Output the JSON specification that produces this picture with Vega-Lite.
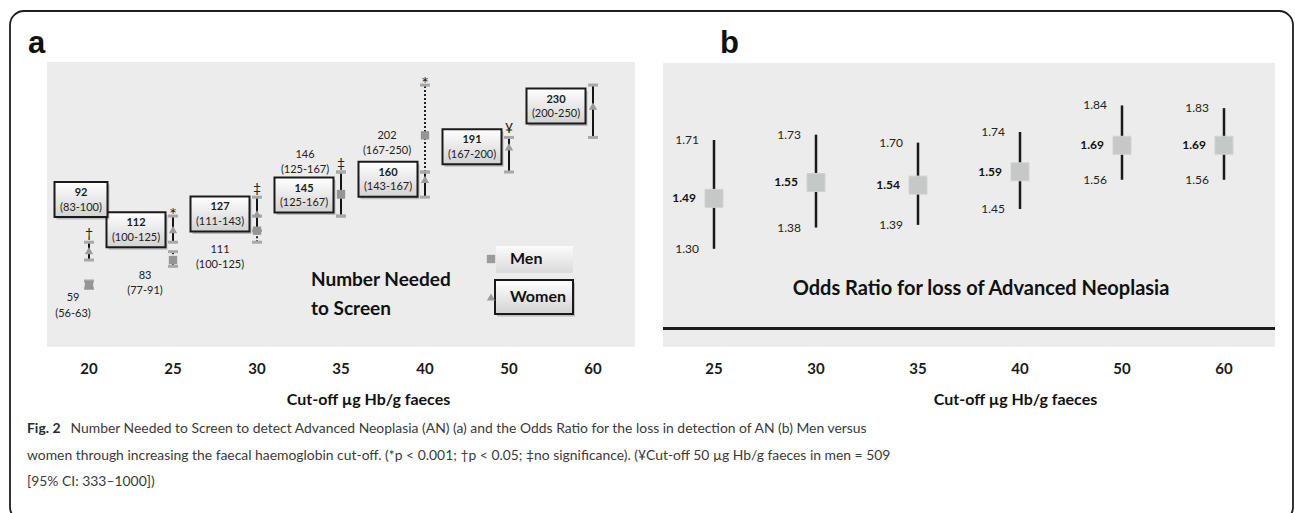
{
  "$schema": "https://vega.github.io/schema/vega-lite/v6.json",
  "width": 1283,
  "height": 510,
  "autosize": {"type": "none"},
  "padding": {"left": 10, "top": 11, "right": 2, "bottom": 0},
  "background": "white",
  "config": {
    "view": {"stroke": "#1e1e1e", "strokeWidth": 1.8, "cornerRadius": 14, "fill": "white"},
    "text": {"font": "Lato", "color": "#1a1a1a"}
  },
  "datasets": {
    "nns": [
      {"cutoff": "20", "sex": "Women", "nns": 92, "lo": 83, "hi": 100, "sig": "†"},
      {"cutoff": "20", "sex": "Men", "nns": 59, "lo": 56, "hi": 63, "sig": ""},
      {"cutoff": "25", "sex": "Women", "nns": 112, "lo": 100, "hi": 125, "sig": "*"},
      {"cutoff": "25", "sex": "Men", "nns": 83, "lo": 77, "hi": 91, "sig": ""},
      {"cutoff": "30", "sex": "Women", "nns": 127, "lo": 111, "hi": 143, "sig": "‡"},
      {"cutoff": "30", "sex": "Men", "nns": 111, "lo": 100, "hi": 125, "sig": ""},
      {"cutoff": "35", "sex": "Women", "nns": 145, "lo": 125, "hi": 167, "sig": "‡"},
      {"cutoff": "35", "sex": "Men", "nns": 146, "lo": 125, "hi": 167, "sig": ""},
      {"cutoff": "40", "sex": "Women", "nns": 160, "lo": 143, "hi": 167, "sig": "*"},
      {"cutoff": "40", "sex": "Men", "nns": 202, "lo": 167, "hi": 250, "sig": ""},
      {"cutoff": "50", "sex": "Women", "nns": 191, "lo": 167, "hi": 200, "sig": "¥"},
      {"cutoff": "50", "sex": "Men", "nns": 509, "lo": 333, "hi": 1000, "sig": ""},
      {"cutoff": "60", "sex": "Women", "nns": 230, "lo": 200, "hi": 250, "sig": ""}
    ],
    "or": [
      {"cutoff": "25", "or": 1.49, "lo": 1.30, "hi": 1.71},
      {"cutoff": "30", "or": 1.55, "lo": 1.38, "hi": 1.73},
      {"cutoff": "35", "or": 1.54, "lo": 1.39, "hi": 1.70},
      {"cutoff": "40", "or": 1.59, "lo": 1.45, "hi": 1.74},
      {"cutoff": "50", "or": 1.69, "lo": 1.56, "hi": 1.84},
      {"cutoff": "60", "or": 1.69, "lo": 1.56, "hi": 1.83}
    ]
  },
  "layer": [
    {
      "data": {"name": "nns"},
      "encoding": {
        "x": {"field": "cutoff", "type": "nominal",
          "scale": {"domain": ["20","25","30","35","40","50","60"], "range": [37, 625], "paddingInner": 0, "paddingOuter": 0},
          "axis": {"orient": "bottom", "offset": -174, "title": "Cut-off µg Hb/g faeces", "titleX": 358, "labelAngle": 0, "domain": false, "ticks": false, "tickSize": 0, "grid": false, "labelFont": "Lato", "labelFontWeight": "bold", "labelFontSize": 15, "labelColor": "#1a1a1a", "labelPadding": 14.5, "titleFont": "Lato", "titleFontWeight": "bold", "titleFontSize": 16, "titleColor": "#111111", "titlePadding": 15}}
      },
      "layer": [
        {
          "transform": [{"filter": "datum.sex == 'Women'"}],
          "mark": {"type": "rect", "fill": "#ececec"},
          "encoding": {"y": {"datum": 0, "type": "quantitative", "scale": {"domain": [0, 272], "range": [336, 51], "nice": false}, "axis": null}, "y2": {"datum": 272}}
        },
        {
          "transform": [{"filter": "datum.sex == 'Men' && datum.nns <= 272"}],
          "mark": {"type": "rule", "color": "#222222", "strokeWidth": 2, "strokeDash": [2, 2]},
          "encoding": {"y": {"field": "lo", "type": "quantitative", "scale": {"domain": [0, 272], "range": [336, 51], "nice": false}, "axis": null}, "y2": {"field": "hi"}}
        },
        {
          "transform": [{"filter": "datum.sex == 'Women'"}],
          "mark": {"type": "rule", "color": "#151515", "strokeWidth": 2},
          "encoding": {"y": {"field": "lo", "type": "quantitative", "scale": {"domain": [0, 272], "range": [336, 51], "nice": false}, "axis": null}, "y2": {"field": "hi"}}
        },
        {
          "transform": [{"filter": "datum.nns <= 272"}, {"fold": ["lo", "hi"], "as": ["bound", "val"]}],
          "mark": {"type": "tick", "color": "#a8a8a8", "size": 10, "thickness": 3, "opacity": 1},
          "encoding": {"y": {"field": "val", "type": "quantitative", "scale": {"domain": [0, 272], "range": [336, 51], "nice": false}, "axis": null}}
        },
        {
          "transform": [{"filter": "datum.sex == 'Women'"}],
          "mark": {"type": "point", "filled": true, "color": "#9b9b9b", "opacity": 1, "size": 70},
          "encoding": {
            "y": {"field": "nns", "type": "quantitative", "scale": {"domain": [0, 272], "range": [336, 51], "nice": false}, "axis": null},
            "shape": {"field": "sex", "type": "nominal", "scale": {"domain": ["Men", "Women"], "range": ["square", "triangle-up"]},
              "legend": {"orient": "none", "legendX": 473, "legendY": 240, "title": null, "direction": "vertical", "symbolSize": 70, "symbolFillColor": "#9b9b9b", "symbolStrokeWidth": 0, "labelFont": "Lato", "labelFontWeight": "bold", "labelFontSize": 16, "labelColor": "#111111", "labelOffset": 11, "rowPadding": 22, "padding": 0}}
          }
        },
        {
          "transform": [{"filter": "datum.sex == 'Men' && datum.nns <= 272"}],
          "mark": {"type": "point", "filled": true, "color": "#959595", "opacity": 1, "size": 70},
          "encoding": {
            "y": {"field": "nns", "type": "quantitative", "scale": {"domain": [0, 272], "range": [336, 51], "nice": false}, "axis": null},
            "shape": {"field": "sex", "type": "nominal", "scale": {"domain": ["Men", "Women"], "range": ["square", "triangle-up"]}}
          }
        },
        {
          "transform": [{"filter": "datum.nns <= 272"}, {"joinaggregate": [{"op": "max", "field": "hi", "as": "top"}], "groupby": ["cutoff"]}, {"filter": "datum.sig != '' && datum.sig != '*'"}],
          "mark": {"type": "text", "fontSize": 14, "baseline": "alphabetic", "dy": -4, "color": "#222222"},
          "encoding": {"y": {"field": "top", "type": "quantitative", "scale": {"domain": [0, 272], "range": [336, 51], "nice": false}, "axis": null}, "text": {"field": "sig"}}
        },
        {
          "transform": [{"filter": "datum.nns <= 272"}, {"joinaggregate": [{"op": "max", "field": "hi", "as": "top"}], "groupby": ["cutoff"]}, {"filter": "datum.sig == '*'"}],
          "mark": {"type": "text", "fontSize": 18, "baseline": "alphabetic", "dy": 5, "color": "#222222"},
          "encoding": {"y": {"field": "top", "type": "quantitative", "scale": {"domain": [0, 272], "range": [336, 51], "nice": false}, "axis": null}, "text": {"field": "sig"}}
        },
        {
          "transform": [{"filter": "datum.sex == 'Women' && datum.cutoff != '20'"}],
          "mark": {"type": "point", "shape": "M-1.686,-1H1.686V1H-1.686Z", "size": 1225, "filled": true, "fill": "#000000", "opacity": 0.2, "xOffset": -35, "yOffset": 2.5, "strokeWidth": 0},
          "encoding": {"y": {"field": "nns", "type": "quantitative", "scale": {"domain": [0, 272], "range": [336, 51], "nice": false}, "axis": null}}
        },
        {
          "transform": [{"filter": "datum.sex == 'Women' && datum.cutoff != '20'"}],
          "mark": {"type": "point", "shape": "M-1.686,-1H1.686V1H-1.686Z", "size": 1225, "filled": true, "opacity": 1,
            "fill": {"gradient": "linear", "x1": 0, "y1": 0, "x2": 0, "y2": 1, "stops": [{"offset": 0, "color": "#ffffff"}, {"offset": 1, "color": "#d2d2d2"}]},
            "stroke": "#1a1a1a", "strokeWidth": 2, "xOffset": -37},
          "encoding": {"y": {"field": "nns", "type": "quantitative", "scale": {"domain": [0, 272], "range": [336, 51], "nice": false}, "axis": null}}
        },
        {
          "transform": [{"filter": "datum.sex == 'Women' && datum.cutoff == '20'"}],
          "mark": {"type": "point", "shape": "M-1.514,-1H1.514V1H-1.514Z", "size": 1225, "filled": true, "fill": "#000000", "opacity": 0.2, "xOffset": -6, "yOffset": -48.5, "strokeWidth": 0},
          "encoding": {"y": {"field": "nns", "type": "quantitative", "scale": {"domain": [0, 272], "range": [336, 51], "nice": false}, "axis": null}}
        },
        {
          "transform": [{"filter": "datum.sex == 'Women' && datum.cutoff == '20'"}],
          "mark": {"type": "point", "shape": "M-1.514,-1H1.514V1H-1.514Z", "size": 1225, "filled": true, "opacity": 1,
            "fill": {"gradient": "linear", "x1": 0, "y1": 0, "x2": 0, "y2": 1, "stops": [{"offset": 0, "color": "#ffffff"}, {"offset": 1, "color": "#d2d2d2"}]},
            "stroke": "#1a1a1a", "strokeWidth": 2, "xOffset": -8, "yOffset": -51},
          "encoding": {"y": {"field": "nns", "type": "quantitative", "scale": {"domain": [0, 272], "range": [336, 51], "nice": false}, "axis": null}}
        },
        {
          "transform": [{"filter": "datum.sex == 'Women' && datum.cutoff != '20'"}],
          "mark": {"type": "text", "fontSize": 11, "fontWeight": "bold", "baseline": "middle", "dx": -37, "dy": -6.5},
          "encoding": {"y": {"field": "nns", "type": "quantitative", "scale": {"domain": [0, 272], "range": [336, 51], "nice": false}, "axis": null}, "text": {"field": "nns", "type": "quantitative", "format": "d"}}
        },
        {
          "transform": [{"filter": "datum.sex == 'Women' && datum.cutoff != '20'"}, {"calculate": "'(' + datum.lo + '-' + datum.hi + ')'", "as": "ci"}],
          "mark": {"type": "text", "fontSize": 11, "baseline": "middle", "dx": -37, "dy": 8, "color": "#222222"},
          "encoding": {"y": {"field": "nns", "type": "quantitative", "scale": {"domain": [0, 272], "range": [336, 51], "nice": false}, "axis": null}, "text": {"field": "ci"}}
        },
        {
          "transform": [{"filter": "datum.sex == 'Women' && datum.cutoff == '20'"}],
          "mark": {"type": "text", "fontSize": 11, "fontWeight": "bold", "baseline": "middle", "dx": -8, "dy": -57.5},
          "encoding": {"y": {"field": "nns", "type": "quantitative", "scale": {"domain": [0, 272], "range": [336, 51], "nice": false}, "axis": null}, "text": {"field": "nns", "type": "quantitative", "format": "d"}}
        },
        {
          "transform": [{"filter": "datum.sex == 'Women' && datum.cutoff == '20'"}, {"calculate": "'(' + datum.lo + '-' + datum.hi + ')'", "as": "ci"}],
          "mark": {"type": "text", "fontSize": 11, "baseline": "middle", "dx": -8, "dy": -43, "color": "#222222"},
          "encoding": {"y": {"field": "nns", "type": "quantitative", "scale": {"domain": [0, 272], "range": [336, 51], "nice": false}, "axis": null}, "text": {"field": "ci"}}
        },
        {
          "transform": [{"filter": "datum.sex == 'Men' && datum.cutoff == '20'"}, {"calculate": "datum.nns + '\\n(' + datum.lo + '-' + datum.hi + ')'", "as": "lab"}],
          "mark": {"type": "text", "fontSize": 11, "baseline": "middle", "lineBreak": "\n", "lineHeight": 15.5, "dx": -16, "dy": 13, "color": "#222222"},
          "encoding": {"y": {"field": "nns", "type": "quantitative", "scale": {"domain": [0, 272], "range": [336, 51], "nice": false}, "axis": null}, "text": {"field": "lab"}}
        },
        {
          "transform": [{"filter": "datum.sex == 'Men' && datum.cutoff == '25'"}, {"calculate": "datum.nns + '\\n(' + datum.lo + '-' + datum.hi + ')'", "as": "lab"}],
          "mark": {"type": "text", "fontSize": 11, "baseline": "middle", "lineBreak": "\n", "lineHeight": 15.5, "dx": -28, "dy": 15.5, "color": "#222222"},
          "encoding": {"y": {"field": "nns", "type": "quantitative", "scale": {"domain": [0, 272], "range": [336, 51], "nice": false}, "axis": null}, "text": {"field": "lab"}}
        },
        {
          "transform": [{"filter": "datum.sex == 'Men' && datum.cutoff == '30'"}, {"calculate": "datum.nns + '\\n(' + datum.lo + '-' + datum.hi + ')'", "as": "lab"}],
          "mark": {"type": "text", "fontSize": 11, "baseline": "middle", "lineBreak": "\n", "lineHeight": 15.5, "dx": -37, "dy": 19, "color": "#222222"},
          "encoding": {"y": {"field": "nns", "type": "quantitative", "scale": {"domain": [0, 272], "range": [336, 51], "nice": false}, "axis": null}, "text": {"field": "lab"}}
        },
        {
          "transform": [{"filter": "datum.sex == 'Men' && datum.cutoff == '35'"}, {"calculate": "datum.nns + '\\n(' + datum.lo + '-' + datum.hi + ')'", "as": "lab"}],
          "mark": {"type": "text", "fontSize": 11, "baseline": "middle", "lineBreak": "\n", "lineHeight": 15.5, "dx": -36, "dy": -39.5, "color": "#222222"},
          "encoding": {"y": {"field": "nns", "type": "quantitative", "scale": {"domain": [0, 272], "range": [336, 51], "nice": false}, "axis": null}, "text": {"field": "lab"}}
        },
        {
          "transform": [{"filter": "datum.sex == 'Men' && datum.cutoff == '40'"}, {"calculate": "datum.nns + '\\n(' + datum.lo + '-' + datum.hi + ')'", "as": "lab"}],
          "mark": {"type": "text", "fontSize": 11, "baseline": "middle", "lineBreak": "\n", "lineHeight": 15.5, "dx": -38, "dy": 0.5, "color": "#222222"},
          "encoding": {"y": {"field": "nns", "type": "quantitative", "scale": {"domain": [0, 272], "range": [336, 51], "nice": false}, "axis": null}, "text": {"field": "lab"}}
        },
        {
          "data": {"values": [{}]},
          "mark": {"type": "text", "fontSize": 19, "fontWeight": "bold", "align": "left", "baseline": "middle", "lineHeight": 29, "dx": -30, "color": "#111111"},
          "encoding": {
            "x": {"datum": "35", "type": "nominal", "scale": {"domain": ["20","25","30","35","40","50","60"], "range": [37, 625], "paddingInner": 0, "paddingOuter": 0}},
            "y": {"datum": 63.5, "type": "quantitative", "scale": {"domain": [0, 272], "range": [336, 51], "nice": false}, "axis": null},
            "text": {"value": ["Number Needed", "to Screen"]}
          }
        },
        {
          "data": {"values": [{}]},
          "mark": {"type": "point", "shape": "M-2.852,-1H2.852V1H-2.852Z", "size": 729, "filled": true, "opacity": 1, "strokeWidth": 0, "xOffset": 25.5,
            "fill": {"gradient": "linear", "x1": 0, "y1": 0, "x2": 0, "y2": 1, "stops": [{"offset": 0, "color": "#fbfbfb"}, {"offset": 1, "color": "#dadada"}]}},
          "encoding": {
            "x": {"datum": "50", "type": "nominal", "scale": {"domain": ["20","25","30","35","40","50","60"], "range": [37, 625], "paddingInner": 0, "paddingOuter": 0}},
            "y": {"datum": 83.5, "type": "quantitative", "scale": {"domain": [0, 272], "range": [336, 51], "nice": false}, "axis": null}
          }
        },
        {
          "data": {"values": [{}]},
          "mark": {"type": "point", "shape": "M-2.294,-1H2.294V1H-2.294Z", "size": 1156, "filled": true, "fill": "#000000", "opacity": 0.2, "strokeWidth": 0, "xOffset": 27, "yOffset": 2.5},
          "encoding": {
            "x": {"datum": "50", "type": "nominal", "scale": {"domain": ["20","25","30","35","40","50","60"], "range": [37, 625], "paddingInner": 0, "paddingOuter": 0}},
            "y": {"datum": 47.7, "type": "quantitative", "scale": {"domain": [0, 272], "range": [336, 51], "nice": false}, "axis": null}
          }
        },
        {
          "data": {"values": [{}]},
          "mark": {"type": "point", "shape": "M-2.294,-1H2.294V1H-2.294Z", "size": 1156, "filled": true, "opacity": 1, "stroke": "#1a1a1a", "strokeWidth": 2, "xOffset": 25,
            "fill": {"gradient": "linear", "x1": 0, "y1": 0, "x2": 0, "y2": 1, "stops": [{"offset": 0, "color": "#ffffff"}, {"offset": 1, "color": "#d2d2d2"}]}},
          "encoding": {
            "x": {"datum": "50", "type": "nominal", "scale": {"domain": ["20","25","30","35","40","50","60"], "range": [37, 625], "paddingInner": 0, "paddingOuter": 0}},
            "y": {"datum": 47.7, "type": "quantitative", "scale": {"domain": [0, 272], "range": [336, 51], "nice": false}, "axis": null}
          }
        },
        {
          "data": {"values": [{}]},
          "mark": {"type": "text", "font": "Liberation Sans", "fontSize": 31, "fontWeight": "bold", "align": "left", "baseline": "alphabetic", "dx": -61, "color": "#111111"},
          "encoding": {
            "x": {"datum": "20", "type": "nominal", "scale": {"domain": ["20","25","30","35","40","50","60"], "range": [37, 625], "paddingInner": 0, "paddingOuter": 0}},
            "y": {"datum": 280.6, "type": "quantitative", "scale": {"domain": [0, 272], "range": [336, 51], "nice": false}, "axis": null},
            "text": {"value": "a"}
          }
        },
        {
          "data": {"values": [{}]},
          "mark": {"type": "text", "fontSize": 13.9, "fontWeight": "bold", "align": "left", "baseline": "middle", "dx": -62, "color": "#2a2a2a"},
          "encoding": {
            "x": {"datum": "20", "type": "nominal", "scale": {"domain": ["20","25","30","35","40","50","60"], "range": [37, 625], "paddingInner": 0, "paddingOuter": 0}},
            "y": {"datum": -78.3, "type": "quantitative", "scale": {"domain": [0, 272], "range": [336, 51], "nice": false}, "axis": null},
            "text": {"value": "Fig. 2"}
          }
        },
        {
          "data": {"values": [{}]},
          "mark": {"type": "text", "fontSize": 13.9, "align": "left", "baseline": "middle", "dx": -18.5, "color": "#3a3a3a"},
          "encoding": {
            "x": {"datum": "20", "type": "nominal", "scale": {"domain": ["20","25","30","35","40","50","60"], "range": [37, 625], "paddingInner": 0, "paddingOuter": 0}},
            "y": {"datum": -78.3, "type": "quantitative", "scale": {"domain": [0, 272], "range": [336, 51], "nice": false}, "axis": null},
            "text": {"value": "Number Needed to Screen to detect Advanced Neoplasia (AN) (a) and the Odds Ratio for the loss in detection of AN (b) Men versus"}
          }
        },
        {
          "data": {"values": [{}]},
          "mark": {"type": "text", "fontSize": 13.9, "align": "left", "baseline": "middle", "dx": -62, "color": "#3a3a3a"},
          "encoding": {
            "x": {"datum": "20", "type": "nominal", "scale": {"domain": ["20","25","30","35","40","50","60"], "range": [37, 625], "paddingInner": 0, "paddingOuter": 0}},
            "y": {"datum": -104, "type": "quantitative", "scale": {"domain": [0, 272], "range": [336, 51], "nice": false}, "axis": null},
            "text": {"value": "women through increasing the faecal haemoglobin cut-off. (*p < 0.001; †p < 0.05; ‡no significance). (¥Cut-off 50 µg Hb/g faeces in men = 509"}
          }
        },
        {
          "data": {"values": [{}]},
          "mark": {"type": "text", "fontSize": 13.9, "align": "left", "baseline": "middle", "dx": -62, "color": "#3a3a3a"},
          "encoding": {
            "x": {"datum": "20", "type": "nominal", "scale": {"domain": ["20","25","30","35","40","50","60"], "range": [37, 625], "paddingInner": 0, "paddingOuter": 0}},
            "y": {"datum": -128.8, "type": "quantitative", "scale": {"domain": [0, 272], "range": [336, 51], "nice": false}, "axis": null},
            "text": {"value": "[95% CI: 333–1000])"}
          }
        }
      ]
    },
    {
      "data": {"name": "or"},
      "encoding": {
        "x": {"field": "cutoff", "type": "nominal",
          "scale": {"domain": ["25","30","35","40","50","60"], "range": [653, 1265], "paddingInner": 0, "paddingOuter": 0},
          "axis": {"orient": "bottom", "offset": -174, "title": "Cut-off µg Hb/g faeces", "titleX": 1005, "labelAngle": 0, "domain": false, "ticks": false, "tickSize": 0, "grid": false, "labelFont": "Lato", "labelFontWeight": "bold", "labelFontSize": 15, "labelColor": "#1a1a1a", "labelPadding": 14.5, "titleFont": "Lato", "titleFontWeight": "bold", "titleFontSize": 16, "titleColor": "#111111", "titlePadding": 15}}
      },
      "layer": [
        {
          "mark": {"type": "rect", "fill": "#ececec"},
          "encoding": {"y": {"datum": 0.93, "type": "quantitative", "scale": {"domain": [0.93, 2.0], "range": [336, 52], "nice": false, "zero": false}, "axis": null}, "y2": {"datum": 2.0}}
        },
        {
          "mark": {"type": "rect", "fill": "#1c1c1c"},
          "encoding": {"y": {"datum": 0.9945, "type": "quantitative", "scale": {"domain": [0.93, 2.0], "range": [336, 52], "nice": false, "zero": false}, "axis": null}, "y2": {"datum": 1.0055}}
        },
        {
          "mark": {"type": "rule", "color": "#1a1a1a", "strokeWidth": 2.5},
          "encoding": {"y": {"field": "lo", "type": "quantitative", "scale": {"domain": [0.93, 2.0], "range": [336, 52], "nice": false, "zero": false}, "axis": null}, "y2": {"field": "hi"}}
        },
        {
          "mark": {"type": "point", "shape": "square", "size": 324, "filled": true, "fill": "#c6c7c7", "stroke": "#d2d2d2", "strokeWidth": 1, "opacity": 1},
          "encoding": {"y": {"field": "or", "type": "quantitative", "scale": {"domain": [0.93, 2.0], "range": [336, 52], "nice": false, "zero": false}, "axis": null}}
        },
        {
          "mark": {"type": "text", "fontSize": 12, "align": "right", "baseline": "middle", "dx": -15, "color": "#222222"},
          "encoding": {"y": {"field": "hi", "type": "quantitative", "scale": {"domain": [0.93, 2.0], "range": [336, 52], "nice": false, "zero": false}, "axis": null}, "text": {"field": "hi", "type": "quantitative", "format": ".2f"}}
        },
        {
          "mark": {"type": "text", "fontSize": 12, "align": "right", "baseline": "middle", "dx": -15, "color": "#222222"},
          "encoding": {"y": {"field": "lo", "type": "quantitative", "scale": {"domain": [0.93, 2.0], "range": [336, 52], "nice": false, "zero": false}, "axis": null}, "text": {"field": "lo", "type": "quantitative", "format": ".2f"}}
        },
        {
          "mark": {"type": "text", "fontSize": 12, "fontWeight": "bold", "align": "right", "baseline": "middle", "dx": -18, "color": "#111111"},
          "encoding": {"y": {"field": "or", "type": "quantitative", "scale": {"domain": [0.93, 2.0], "range": [336, 52], "nice": false, "zero": false}, "axis": null}, "text": {"field": "or", "type": "quantitative", "format": ".2f"}}
        },
        {
          "data": {"values": [{}]},
          "mark": {"type": "text", "fontSize": 20, "fontWeight": "bold", "align": "center", "baseline": "middle", "dx": 63, "color": "#111111"},
          "encoding": {
            "x": {"datum": "35", "type": "nominal", "scale": {"domain": ["25","30","35","40","50","60"], "range": [653, 1265], "paddingInner": 0, "paddingOuter": 0}},
            "y": {"datum": 1.1485, "type": "quantitative", "scale": {"domain": [0.93, 2.0], "range": [336, 52], "nice": false, "zero": false}, "axis": null},
            "text": {"value": "Odds Ratio for loss of Advanced Neoplasia"}
          }
        },
        {
          "data": {"values": [{}]},
          "mark": {"type": "text", "font": "Liberation Sans", "fontSize": 31, "fontWeight": "bold", "align": "left", "baseline": "alphabetic", "dx": 6, "color": "#111111"},
          "encoding": {
            "x": {"datum": "25", "type": "nominal", "scale": {"domain": ["25","30","35","40","50","60"], "range": [653, 1265], "paddingInner": 0, "paddingOuter": 0}},
            "y": {"datum": 2.0378, "type": "quantitative", "scale": {"domain": [0.93, 2.0], "range": [336, 52], "nice": false, "zero": false}, "axis": null},
            "text": {"value": "b"}
          }
        }
      ]
    }
  ],
  "resolve": {"scale": {"x": "independent", "y": "independent"}, "axis": {"x": "independent"}}
}
